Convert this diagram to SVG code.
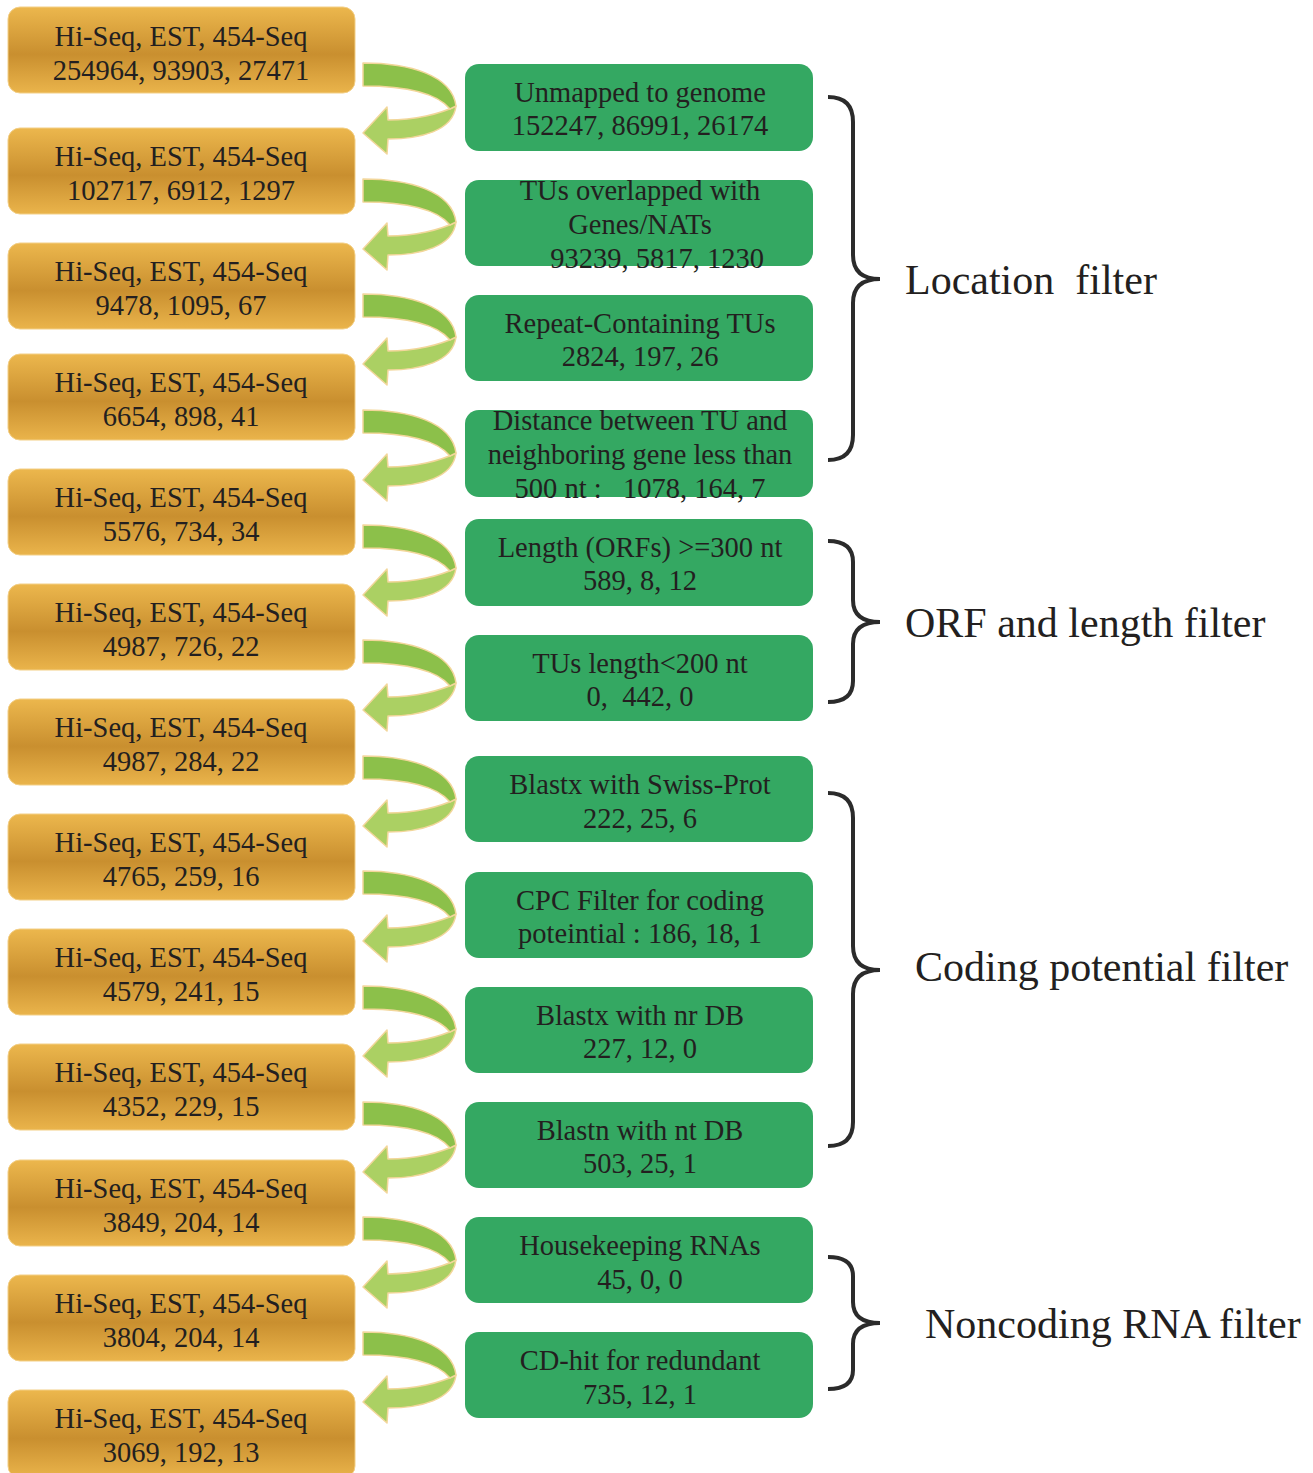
<svg xmlns="http://www.w3.org/2000/svg" width="1313" height="1473" viewBox="0 0 1313 1473">
<style>
.ob{fill:url(#og);stroke:#f3cf86;stroke-width:1}
.gb{fill:#34a862}
.t{font-family:"Liberation Serif","Times New Roman",serif;font-size:28.5px;fill:#231f20;text-anchor:middle;white-space:pre}
.lab{font-family:"Liberation Serif","Times New Roman",serif;font-size:42px;fill:#231f20;white-space:pre}
.brace{fill:none;stroke:#2b2b2b;stroke-width:4;stroke-linecap:butt}
.up{fill:#8cc04a;stroke:#f2d69a;stroke-width:1.5;stroke-linejoin:round}
.lo{fill:#abd063;stroke:#f2d69a;stroke-width:1.5;stroke-linejoin:round}
</style>
<defs>
<linearGradient id="og" x1="0" y1="0" x2="0" y2="1">
<stop offset="0" stop-color="#ecb74d"/>
<stop offset="0.55" stop-color="#c98f2f"/>
<stop offset="1" stop-color="#eab44b"/>
</linearGradient>
<g id="arrow">
<path class="lo" d="M93,43 C77,51 52,57 25,57 L24,44 L0,70 L24,91 L25,76 C57,76 90,68 93,43 Z"/>
<path class="up" d="M0,0 C46,0 89,12 93,43 L87,46 C74,30 42,23 0,23 Z"/>
</g>
</defs>
<rect width="1313" height="1473" fill="#ffffff"/>

<g id="connectors">
<use href="#arrow" transform="translate(363,63)"/>
<use href="#arrow" transform="translate(363,179)"/>
<use href="#arrow" transform="translate(363,294)"/>
<use href="#arrow" transform="translate(363,410)"/>
<use href="#arrow" transform="translate(363,525)"/>
<use href="#arrow" transform="translate(363,640)"/>
<use href="#arrow" transform="translate(363,756)"/>
<use href="#arrow" transform="translate(363,871)"/>
<use href="#arrow" transform="translate(363,986)"/>
<use href="#arrow" transform="translate(363,1102)"/>
<use href="#arrow" transform="translate(363,1217)"/>
<use href="#arrow" transform="translate(363,1332)"/>
</g>

<g id="data-nodes">
<g id="d0"><rect class="ob" x="8" y="7" width="347" height="86" rx="12"/><text class="t" x="181" y="46">Hi-Seq, EST, 454-Seq</text><text class="t" x="181" y="80">254964, 93903, 27471</text></g>
<g id="d1"><rect class="ob" x="8" y="128" width="347" height="86" rx="12"/><text class="t" x="181" y="166">Hi-Seq, EST, 454-Seq</text><text class="t" x="181" y="200">102717, 6912, 1297</text></g>
<g id="d2"><rect class="ob" x="8" y="243" width="347" height="86" rx="12"/><text class="t" x="181" y="281">Hi-Seq, EST, 454-Seq</text><text class="t" x="181" y="315">9478, 1095, 67</text></g>
<g id="d3"><rect class="ob" x="8" y="354" width="347" height="86" rx="12"/><text class="t" x="181" y="392">Hi-Seq, EST, 454-Seq</text><text class="t" x="181" y="426">6654, 898, 41</text></g>
<g id="d4"><rect class="ob" x="8" y="469" width="347" height="86" rx="12"/><text class="t" x="181" y="507">Hi-Seq, EST, 454-Seq</text><text class="t" x="181" y="541">5576, 734, 34</text></g>
<g id="d5"><rect class="ob" x="8" y="584" width="347" height="86" rx="12"/><text class="t" x="181" y="622">Hi-Seq, EST, 454-Seq</text><text class="t" x="181" y="656">4987, 726, 22</text></g>
<g id="d6"><rect class="ob" x="8" y="699" width="347" height="86" rx="12"/><text class="t" x="181" y="737">Hi-Seq, EST, 454-Seq</text><text class="t" x="181" y="771">4987, 284, 22</text></g>
<g id="d7"><rect class="ob" x="8" y="814" width="347" height="86" rx="12"/><text class="t" x="181" y="852">Hi-Seq, EST, 454-Seq</text><text class="t" x="181" y="886">4765, 259, 16</text></g>
<g id="d8"><rect class="ob" x="8" y="929" width="347" height="86" rx="12"/><text class="t" x="181" y="967">Hi-Seq, EST, 454-Seq</text><text class="t" x="181" y="1001">4579, 241, 15</text></g>
<g id="d9"><rect class="ob" x="8" y="1044" width="347" height="86" rx="12"/><text class="t" x="181" y="1082">Hi-Seq, EST, 454-Seq</text><text class="t" x="181" y="1116">4352, 229, 15</text></g>
<g id="d10"><rect class="ob" x="8" y="1160" width="347" height="86" rx="12"/><text class="t" x="181" y="1198">Hi-Seq, EST, 454-Seq</text><text class="t" x="181" y="1232">3849, 204, 14</text></g>
<g id="d11"><rect class="ob" x="8" y="1275" width="347" height="86" rx="12"/><text class="t" x="181" y="1313">Hi-Seq, EST, 454-Seq</text><text class="t" x="181" y="1347">3804, 204, 14</text></g>
<g id="d12"><rect class="ob" x="8" y="1390" width="347" height="88" rx="12"/><text class="t" x="181" y="1428">Hi-Seq, EST, 454-Seq</text><text class="t" x="181" y="1462">3069, 192, 13</text></g>
</g>

<g id="filter-nodes">
<g id="f0"><rect class="gb" x="465" y="64" width="348" height="87" rx="14"/><text class="t" x="640" y="102">Unmapped to genome</text><text class="t" x="640" y="135">152247, 86991, 26174</text></g>
<g id="f1"><rect class="gb" x="465" y="180" width="348" height="86" rx="14"/><text class="t" x="640" y="200">TUs overlapped with</text><text class="t" x="640" y="234">Genes/NATs</text><text class="t" x="657" y="268">93239, 5817, 1230</text></g>
<g id="f2"><rect class="gb" x="465" y="295" width="348" height="86" rx="14"/><text class="t" x="640" y="333">Repeat-Containing TUs</text><text class="t" x="640" y="366">2824, 197, 26</text></g>
<g id="f3"><rect class="gb" x="465" y="410" width="348" height="87" rx="14"/><text class="t" x="640" y="430">Distance between TU and</text><text class="t" x="640" y="464">neighboring gene less than</text><text class="t" x="640" y="498" xml:space="preserve">500 nt :   1078, 164, 7</text></g>
<g id="f4"><rect class="gb" x="465" y="519" width="348" height="87" rx="14"/><text class="t" x="640" y="557">Length (ORFs) &gt;=300 nt</text><text class="t" x="640" y="590">589, 8, 12</text></g>
<g id="f5"><rect class="gb" x="465" y="635" width="348" height="86" rx="14"/><text class="t" x="640" y="673">TUs length&lt;200 nt</text><text class="t" x="640" y="706" xml:space="preserve">0,  442, 0</text></g>
<g id="f6"><rect class="gb" x="465" y="756" width="348" height="86" rx="14"/><text class="t" x="640" y="794">Blastx with Swiss-Prot</text><text class="t" x="640" y="828">222, 25, 6</text></g>
<g id="f7"><rect class="gb" x="465" y="872" width="348" height="86" rx="14"/><text class="t" x="640" y="910">CPC Filter for coding</text><text class="t" x="640" y="943">poteintial : 186, 18, 1</text></g>
<g id="f8"><rect class="gb" x="465" y="987" width="348" height="86" rx="14"/><text class="t" x="640" y="1025">Blastx with nr DB</text><text class="t" x="640" y="1058">227, 12, 0</text></g>
<g id="f9"><rect class="gb" x="465" y="1102" width="348" height="86" rx="14"/><text class="t" x="640" y="1140">Blastn with nt DB</text><text class="t" x="640" y="1173">503, 25, 1</text></g>
<g id="f10"><rect class="gb" x="465" y="1217" width="348" height="86" rx="14"/><text class="t" x="640" y="1255">Housekeeping RNAs</text><text class="t" x="640" y="1289">45, 0, 0</text></g>
<g id="f11"><rect class="gb" x="465" y="1332" width="348" height="86" rx="14"/><text class="t" x="640" y="1370">CD-hit for redundant</text><text class="t" x="640" y="1404">735, 12, 1</text></g>
</g>

<g id="groups">
<g id="location-filter"><path class="brace" d="M828,97 Q853,97 853,122 L853,255 Q853,279 880,279 Q853,279 853,303 L853,435 Q853,460 828,460"/><text class="lab" x="905" y="294" xml:space="preserve">Location  filter</text></g>
<g id="orf-filter"><path class="brace" d="M828,541 Q853,541 853,562 L853,600 Q853,622 880,622 Q853,622 853,644 L853,681 Q853,702 828,702"/><text class="lab" x="905" y="637">ORF and length filter</text></g>
<g id="coding-filter"><path class="brace" d="M828,793 Q853,793 853,818 L853,946 Q853,970 880,970 Q853,970 853,994 L853,1122 Q853,1146 828,1146"/><text class="lab" x="915" y="981">Coding potential filter</text></g>
<g id="noncoding-filter"><path class="brace" d="M828,1257 Q853,1257 853,1276 L853,1302 Q853,1323 880,1323 Q853,1323 853,1344 L853,1370 Q853,1389 828,1389"/><text class="lab" x="925" y="1338">Noncoding RNA filter</text></g>
</g>
</svg>
